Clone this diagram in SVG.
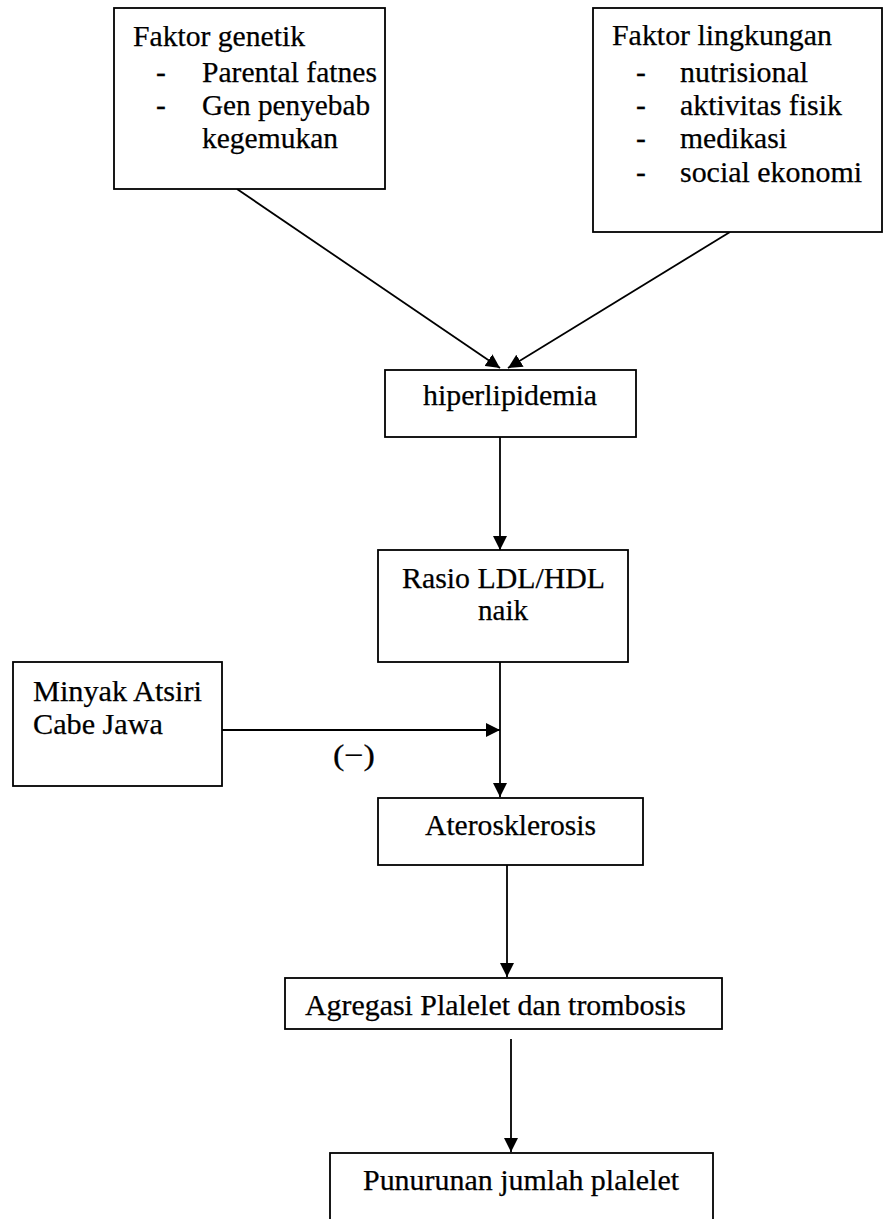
<svg xmlns="http://www.w3.org/2000/svg" width="883" height="1219" viewBox="0 0 883 1219">
<style>
.box{fill:#fff;stroke:#000;stroke-width:1.8}
.t{font-family:'Liberation Serif','Times New Roman','DejaVu Serif',serif;font-size:29.5px;fill:#000;stroke:#000;stroke-width:0.25}
.c{stroke:#000;stroke-width:1.8;fill:none}
</style>
<defs>
<marker id="ah" markerUnits="userSpaceOnUse" markerWidth="14" markerHeight="14" refX="14" refY="7" orient="auto">
<path d="M0,0 L14,7 L0,14 z" fill="#000"/>
</marker>
</defs>
<rect width="883" height="1219" fill="#fff"/>
<g id="connectors">
<line class="c" x1="237" y1="189" x2="500" y2="368" marker-end="url(#ah)"/>
<line class="c" x1="730" y1="232" x2="508" y2="368" marker-end="url(#ah)"/>
<line class="c" x1="500" y1="437" x2="500" y2="550" marker-end="url(#ah)"/>
<line class="c" x1="500" y1="662" x2="500" y2="797" marker-end="url(#ah)"/>
<line class="c" x1="222" y1="730" x2="500" y2="730" marker-end="url(#ah)"/>
<line class="c" x1="507" y1="865" x2="507" y2="977" marker-end="url(#ah)"/>
<line class="c" x1="511" y1="1039" x2="511" y2="1152" marker-end="url(#ah)"/>
<text class="t" x="333" y="765" textLength="42" lengthAdjust="spacingAndGlyphs">(−)</text>
</g>
<g id="faktor-genetik">
<rect class="box" x="114" y="8" width="271" height="181"/>
<text class="t" x="133" y="46" textLength="172" lengthAdjust="spacingAndGlyphs">Faktor genetik</text>
<text class="t" x="156" y="82">-</text>
<text class="t" x="202" y="82" textLength="175" lengthAdjust="spacingAndGlyphs">Parental fatnes</text>
<text class="t" x="156" y="115">-</text>
<text class="t" x="202" y="115" textLength="168" lengthAdjust="spacingAndGlyphs">Gen penyebab</text>
<text class="t" x="202" y="148" textLength="136" lengthAdjust="spacingAndGlyphs">kegemukan</text>
</g>
<g id="faktor-lingkungan">
<rect class="box" x="593" y="8" width="289" height="224"/>
<text class="t" x="612" y="45" textLength="220" lengthAdjust="spacingAndGlyphs">Faktor lingkungan</text>
<text class="t" x="636" y="82">-</text>
<text class="t" x="680" y="82" textLength="128" lengthAdjust="spacingAndGlyphs">nutrisional</text>
<text class="t" x="636" y="115">-</text>
<text class="t" x="680" y="115" textLength="162" lengthAdjust="spacingAndGlyphs">aktivitas fisik</text>
<text class="t" x="636" y="148">-</text>
<text class="t" x="680" y="148" textLength="107" lengthAdjust="spacingAndGlyphs">medikasi</text>
<text class="t" x="636" y="182">-</text>
<text class="t" x="680" y="182" textLength="182" lengthAdjust="spacingAndGlyphs">social ekonomi</text>
</g>
<g id="hiperlipidemia">
<rect class="box" x="385" y="370" width="251" height="67"/>
<text class="t" x="423" y="405" textLength="174" lengthAdjust="spacingAndGlyphs">hiperlipidemia</text>
</g>
<g id="rasio">
<rect class="box" x="378" y="550" width="250" height="112"/>
<text class="t" x="402" y="588" textLength="203" lengthAdjust="spacingAndGlyphs">Rasio LDL/HDL</text>
<text class="t" x="478" y="620" textLength="50" lengthAdjust="spacingAndGlyphs">naik</text>
</g>
<g id="minyak">
<rect class="box" x="13" y="662" width="209" height="124"/>
<text class="t" x="33" y="701" textLength="169" lengthAdjust="spacingAndGlyphs">Minyak Atsiri</text>
<text class="t" x="33" y="734" textLength="130" lengthAdjust="spacingAndGlyphs">Cabe Jawa</text>
</g>
<g id="aterosklerosis">
<rect class="box" x="378" y="798" width="265" height="67"/>
<text class="t" x="425" y="835" textLength="171" lengthAdjust="spacingAndGlyphs">Aterosklerosis</text>
</g>
<g id="agregasi">
<rect class="box" x="285" y="978" width="437" height="51"/>
<text class="t" x="305" y="1015" textLength="381" lengthAdjust="spacingAndGlyphs">Agregasi Plalelet dan trombosis</text>
</g>
<g id="penurunan">
<rect class="box" x="330" y="1153" width="383" height="90"/>
<text class="t" x="363" y="1190" textLength="316" lengthAdjust="spacingAndGlyphs">Punurunan jumlah plalelet</text>
</g>
</svg>
